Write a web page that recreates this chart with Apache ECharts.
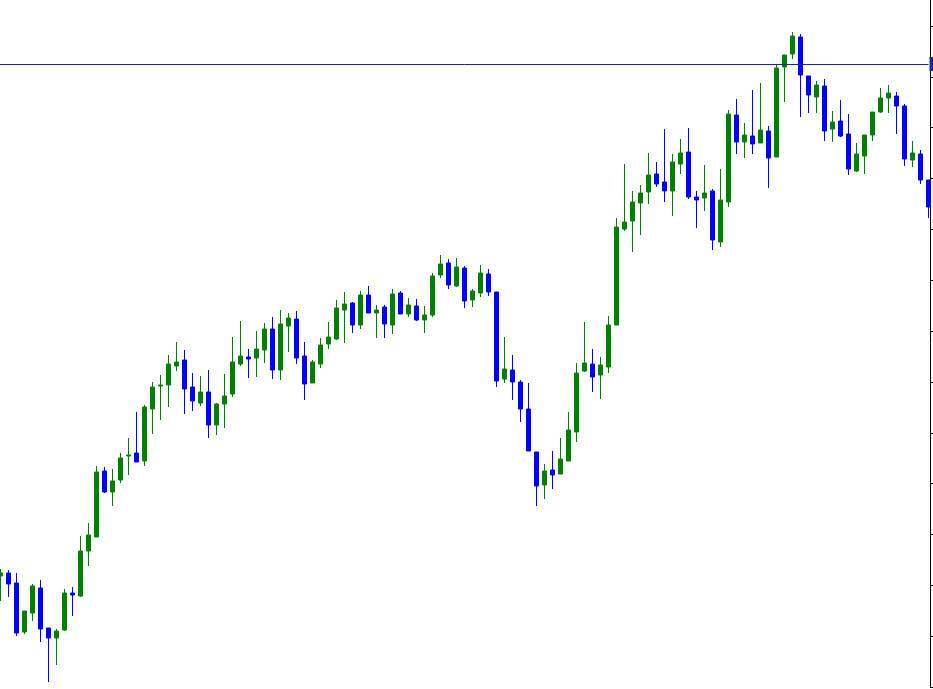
<!DOCTYPE html>
<html>
<head>
<meta charset="utf-8">
<script src="https://cdn.jsdelivr.net/npm/echarts@6/dist/echarts.min.js"></script>
<style>
html,body{margin:0;padding:0;background:#fff;}
#chart{width:933px;height:689px;}
</style>
</head>
<body>
<div id="chart"></div>
<script>
// Price values (arbitrary price units)
const opens  = [111,114,104,55,74,99,59,49,57,94,91,136,150,216,195,207,231,234,226,278,301,302,321,327,300,284,295,262,283,293,323,330,329,337,358,317,361,368,331,304,323,343,348,377,384,362,392,374,380,362,394,373,381,367,372,412,424,401,419,387,394,413,395,308,317,305,278,235,202,217,213,226,255,316,323,312,320,362,458,466,484,495,513,505,496,523,535,490,489,496,445,485,572,545,551,544,556,530,620,633,650,611,590,601,558,566,553,516,531,552,575,589,591,581,527,533,507];
const closes = [114,103,54,76,101,58,49,56,94,92,136,152,215,195,206,229,232,225,280,300,302,323,325,298,286,295,262,283,291,325,331,328,338,358,317,363,369,329,303,325,342,350,379,383,362,392,374,377,363,393,373,382,367,372,411,423,402,420,386,396,414,395,306,318,305,278,236,201,216,212,228,257,314,324,310,322,362,460,465,485,494,512,503,496,525,534,490,487,494,447,487,573,545,552,543,557,529,619,632,651,612,592,602,556,565,551,518,533,552,575,589,594,581,528,534,507,480];
const lows   = [86,90,51,53,66,45,5,22,56,71,90,121,150,194,181,204,212,225,221,253,267,280,316,273,276,281,249,252,259,290,321,309,310,324,308,307,335,323,287,304,319,338,347,344,354,358,374,349,349,353,373,370,366,354,370,409,398,400,379,380,390,391,300,304,287,265,236,181,188,198,213,226,245,315,295,288,314,362,456,435,452,483,500,485,471,513,488,459,476,437,440,480,533,529,533,544,499,530,585,628,570,574,574,546,545,550,512,515,513,546,574,574,553,521,520,503,469];
const highs  = [118,117,114,76,103,107,59,58,98,100,151,164,221,220,218,234,249,275,282,305,312,332,345,337,314,311,317,284,313,350,366,338,356,364,370,377,374,376,345,327,349,365,387,395,385,396,401,382,382,398,396,389,388,381,414,432,428,429,421,398,422,418,395,350,332,307,304,235,223,236,249,275,324,365,338,330,371,469,523,496,502,534,525,558,533,548,559,496,522,498,518,577,588,564,597,604,561,622,632,655,653,611,606,608,576,587,573,544,552,575,599,602,595,583,546,537,507];
const categories = opens.map((_, i) => 'Bar ' + (i + 1));
// Axis ticks and the horizontal price level
const yTicks = [0, 50.85, 101.7, 152.55, 203.4, 254.25, 305.1, 355.95, 406.8, 457.65, 508.5, 559.35, 610.2, 661.05];
const levelPrice = 623;

const ohlc = opens.map((o, i) => [o, closes[i], lows[i], highs[i]]);

const chart = echarts.init(document.getElementById('chart'), null, {renderer: 'canvas'});
chart.setOption({
  animation: false,
  backgroundColor: '#ffffff',
  grid: {left: 0.5, right: 4.5, top: 0, bottom: 2, containLabel: false},
  xAxis: {
    type: 'category',
    data: categories,
    boundaryGap: false,
    show: false
  },
  yAxis: {
    type: 'value',
    position: 'right',
    offset: 1.5,
    min: 0,
    max: 687,
    interval: 50.85,
    scale: false,
    axisLine: {show: true, onZero: false, lineStyle: {color: '#000000', width: 1}},
    axisTick: {show: true, inside: false, length: 3, customValues: yTicks, lineStyle: {color: '#000000', width: 1}},
    axisLabel: {show: false},
    splitLine: {show: false}
  },
  series: [{
    type: 'candlestick',
    data: ohlc,
    barWidth: 4,
    clip: false,
    silent: true,
    z: 1,
    itemStyle: {
      color: '#008000',
      color0: '#0000ff',
      borderColor: '#008000',
      borderColor0: '#0000ff',
      borderColorDoji: '#008000',
      borderWidth: 1
    },
    markLine: {
      silent: true,
      symbol: ['none', 'none'],
      data: [{yAxis: levelPrice, x: 0, x2: 933}],
      lineStyle: {color: '#2020a8', width: 1, type: 'solid'},
      label: {
        show: true,
        position: 'end',
        distance: 1,
        formatter: String(levelPrice),
        color: '#ffffff',
        backgroundColor: '#2020c8',
        padding: [2, 3],
        fontSize: 10,
        fontFamily: 'DejaVu Sans'
      }
    }
  }]
});
</script>
</body>
</html>
